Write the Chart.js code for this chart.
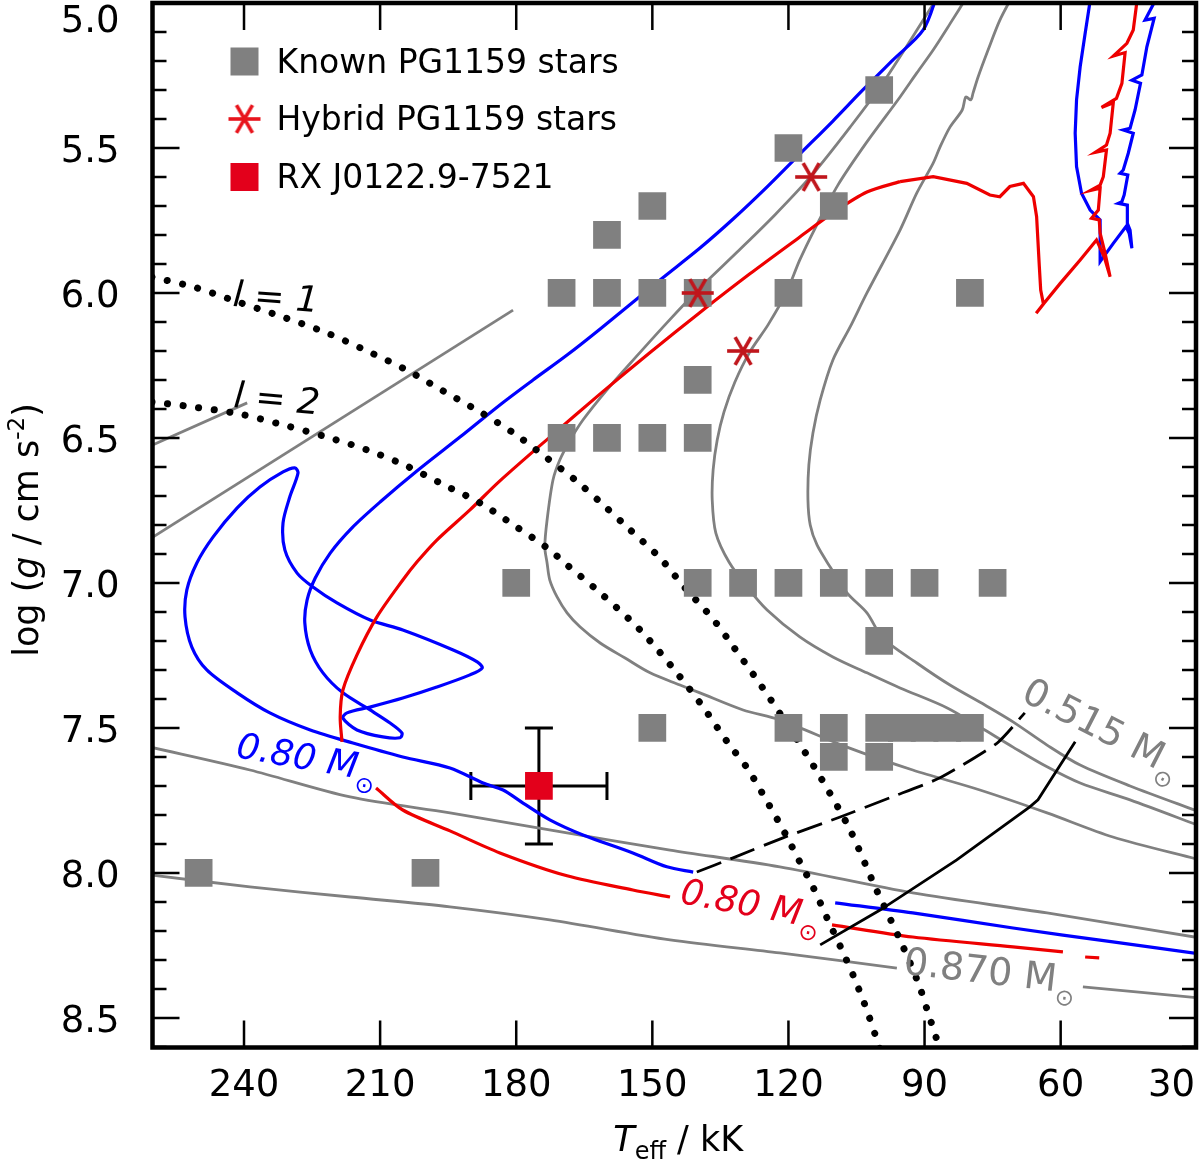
<!DOCTYPE html>
<html><head><meta charset="utf-8">
<script src="https://cdn.jsdelivr.net/npm/chart.js@4.4.1/dist/chart.umd.min.js"></script>
<style>html,body{margin:0;padding:0;background:#fff;}#wrap{width:1200px;height:1160px;position:relative;}</style>
</head><body><div id="wrap"><canvas id="c"></canvas></div>
<script>
// ---------- tick labels ----------
const xTicks = [240, 210, 180, 150, 120, 90, 60, 30];
const yMajorTicks = [5.0, 5.5, 6.0, 6.5, 7.0, 7.5, 8.0, 8.5];
const yMinorTicks = [5.1,5.2,5.3,5.4,5.6,5.7,5.8,5.9,6.1,6.2,6.3,6.4,6.6,6.7,6.8,6.9,7.1,7.2,7.3,7.4,7.6,7.7,7.8,7.9,8.1,8.2,8.3,8.4,8.6];

// ---------- stars [Teff kK, log g] ----------
const knownStars = [[100,5.3],[120,5.5],[110,5.7],[150,5.7],[160,5.8],[170,6.0],[160,6.0],[150,6.0],[140,6.0],[120,6.0],[80,6.0],[140,6.3],[170,6.5],[160,6.5],[150,6.5],[140,6.5],[180,7.0],[140,7.0],[130,7.0],[120,7.0],[110,7.0],[100,7.0],[90,7.0],[75,7.0],[100,7.2],[150,7.5],[120,7.5],[110,7.5],[100,7.5],[95,7.5],[90,7.5],[85,7.5],[80,7.5],[110,7.6],[100,7.6],[250,8.0],[200,8.0]];
const hybridStars = [[140,6.0],[130,6.2],[115,5.6]];
const rxStar = [[175,7.7]];
const rxErrTeff = 15;
const rxErrLogg = 0.2;

// ---------- evolutionary tracks [Teff kK, log g] ----------
const blueTrack = [[87.0,4.962],[90.3,5.093],[97.0,5.197],[103.6,5.300],[110.2,5.407],[117.5,5.521],[124.7,5.634],[132.2,5.745],[139.5,5.845],[148.3,5.955],[161.5,6.124],[168.8,6.214],[176.3,6.300],[183.6,6.386],[192.4,6.497],[201.9,6.614],[210.0,6.721],[216.2,6.810],[221.0,6.897],[224.3,6.983],[226.1,7.059],[226.6,7.138],[225.4,7.231],[222.6,7.310],[218.2,7.379],[212.2,7.438],[207.8,7.483],[205.2,7.517],[205.6,7.534],[209.4,7.531],[215.1,7.507],[218.2,7.466],[217.3,7.448],[212.2,7.428],[205.0,7.397],[197.5,7.359],[190.2,7.317],[187.5,7.293],[188.6,7.272],[193.9,7.231],[205.0,7.162],[212.2,7.128],[219.5,7.069],[224.8,7.014],[228.3,6.966],[231.0,6.886],[231.4,6.793],[229.9,6.703],[228.1,6.621],[228.8,6.603],[231.4,6.617],[236.5,6.669],[241.5,6.741],[246.8,6.841],[250.4,6.931],[252.6,7.024],[253.0,7.117],[251.5,7.221],[248.2,7.300],[241.5,7.379],[234.3,7.448],[225.4,7.507],[216.0,7.552],[205.0,7.600],[194.6,7.638],[187.3,7.690],[182.9,7.714],[178.5,7.759],[172.6,7.817],[165.3,7.869],[154.3,7.931],[146.8,7.979],[141.0,7.997]];
const blueTrackCool = [[109.7,8.103],[92.6,8.138],[70.5,8.190],[48.5,8.238],[29.3,8.279]];
const blueTrackAGB = [[38.5,4.972],[41.4,5.059],[39.4,5.053],[41.0,5.151],[42.1,5.248],[44.3,5.266],[42.4,5.277],[43.6,5.369],[44.7,5.432],[46.2,5.438],[44.0,5.449],[45.1,5.518],[46.2,5.576],[46.9,5.587],[45.2,5.593],[46.0,5.662],[46.5,5.685],[47.3,5.691],[45.3,5.697],[45.3,5.760],[44.7,5.783],[44.3,5.846],[44.9,5.794],[45.6,5.771],[48.4,5.829],[51.3,5.892],[51.3,5.748],[53.5,5.714],[55.4,5.656],[56.5,5.564],[56.8,5.449],[56.5,5.334],[55.7,5.220],[54.6,5.104],[53.3,4.972]];
const redTrackAGB = [[43.0,4.972],[44.0,5.093],[45.4,5.139],[48.4,5.183],[45.8,5.171],[46.5,5.277],[47.7,5.329],[51.0,5.360],[48.4,5.344],[49.1,5.449],[49.9,5.490],[52.4,5.515],[49.9,5.507],[50.6,5.599],[51.3,5.628],[53.5,5.647],[51.3,5.639],[51.7,5.714],[53.2,5.742],[51.5,5.748],[51.3,5.794],[50.2,5.863],[49.1,5.944],[50.4,5.875],[52.1,5.817],[55.7,5.886],[60.1,5.967],[63.8,6.038],[65.4,6.070],[63.8,6.038],[64.4,5.990],[64.7,5.909],[65.3,5.737],[66.0,5.668],[68.2,5.622],[71.2,5.633],[73.4,5.668],[75.6,5.662],[80.7,5.622],[88.1,5.599],[95.4,5.616]];
const redTrack = [[95.4,5.616],[102.7,5.652],[110.2,5.724],[117.5,5.807],[128.5,5.934],[139.5,6.067],[150.5,6.205],[161.5,6.348],[172.6,6.497],[183.6,6.648],[190.2,6.748],[197.5,6.852],[201.9,6.928],[205.0,6.990],[210.7,7.117],[215.1,7.248],[218.2,7.369],[218.8,7.462],[218.4,7.548]];
const redTrackCool1 = [[210.9,7.707],[205.0,7.783],[194.6,7.855],[183.6,7.931],[168.8,8.010],[154.3,8.059],[146.1,8.083]];
const redTrackCool2 = [[110.4,8.179],[92.6,8.221],[70.5,8.255],[59.5,8.272]];
const redTrackCool3 = [[54.6,8.290],[51.5,8.293]];
const grayTrackC = [[86.8,4.972],[99.2,5.276],[106.4,5.428],[114.8,5.593],[123.0,5.731],[131.3,5.859],[139.5,5.983],[146.8,6.103],[153.8,6.224],[160.0,6.334],[165.3,6.438],[168.1,6.507],[170.4,6.576],[171.9,6.645],[173.2,6.783],[173.7,6.876],[173.2,6.931],[172.6,6.990],[171.0,7.048],[168.8,7.103],[165.9,7.152],[161.5,7.207],[156.0,7.259],[150.5,7.310],[143.9,7.352],[139.5,7.379],[130.0,7.438],[121.9,7.472],[107.1,7.566],[92.6,7.645],[77.8,7.714],[63.0,7.793],[48.5,7.876],[29.3,7.955]];
const grayTrackA = [[80.4,4.972],[84.4,5.072],[88.1,5.162],[91.7,5.241],[95.4,5.324],[102.7,5.479],[109.1,5.628],[114.1,5.776],[117.5,5.886],[120.5,6.000],[124.5,6.110],[128.5,6.203],[131.8,6.307],[134.2,6.410],[135.7,6.507],[136.6,6.610],[136.8,6.714],[136.0,6.828],[133.1,6.928],[129.1,7.014],[124.7,7.093],[117.5,7.186],[110.2,7.255],[102.7,7.310],[95.4,7.362],[85.0,7.431],[77.8,7.497],[70.5,7.566],[63.0,7.634],[55.7,7.690],[44.7,7.748],[29.3,7.838]];
const grayTrack0515 = [[70.5,4.972],[73.4,5.059],[76.0,5.162],[78.2,5.255],[79.3,5.310],[79.8,5.334],[80.9,5.324],[81.7,5.369],[84.4,5.428],[86.6,5.497],[88.1,5.552],[91.7,5.655],[95.4,5.783],[102.7,6.000],[106.4,6.117],[110.2,6.231],[113.0,6.369],[114.6,6.483],[115.5,6.593],[115.7,6.714],[115.2,6.800],[113.7,6.869],[110.8,6.945],[107.1,7.034],[102.7,7.103],[99.2,7.190],[91.7,7.276],[84.4,7.352],[76.7,7.421],[70.5,7.479],[63.0,7.559],[55.7,7.628],[44.7,7.700],[29.3,7.790]];
const grayTrackD = [[260.7,7.566],[238.7,7.645],[216.6,7.738],[194.6,7.793],[168.8,7.862],[146.1,7.921],[121.9,7.979],[92.6,8.069],[63.0,8.138],[29.3,8.224]];
const grayTrack0870a = [[260.7,8.007],[238.7,8.048],[216.6,8.083],[194.6,8.117],[172.6,8.162],[146.1,8.231],[121.9,8.276],[96.1,8.328]];
const grayTrack0870b = [[55.1,8.393],[29.3,8.431]];
const grayTrackF = [[260.7,6.528],[239.3,6.379]];
const grayTrackG = [[260.7,6.848],[180.7,6.059]];
const instabL1 = [[260.3,5.945],[251.2,5.979],[241.3,6.031],[231.4,6.083],[221.7,6.138],[212.9,6.200],[204.1,6.266],[196.1,6.338],[188.0,6.410],[180.3,6.486],[173.0,6.572],[167.0,6.645],[161.5,6.721],[154.9,6.817],[148.3,6.914],[142.8,7.017],[136.8,7.121],[132.9,7.203],[125.8,7.359],[119.2,7.514],[112.6,7.679],[106.4,7.852],[100.9,8.048],[95.4,8.231],[91.4,8.379],[89.2,8.483],[86.2,8.628]];
const instabL2 = [[260.3,6.376],[251.2,6.393],[241.1,6.417],[231.4,6.455],[221.7,6.497],[212.9,6.541],[204.1,6.597],[195.9,6.662],[188.0,6.724],[180.3,6.803],[173.2,6.879],[168.8,6.938],[161.5,7.034],[152.7,7.162],[144.6,7.310],[138.8,7.428],[133.3,7.552],[129.1,7.638],[125.8,7.724],[120.8,7.862],[117.5,7.962],[114.6,8.048],[111.3,8.162],[108.2,8.266],[105.3,8.369],[102.5,8.483],[99.4,8.628]];
const dashedBoundary = [[140.2,7.997],[132.2,7.948],[121.2,7.879],[108.6,7.807],[97.2,7.738],[86.6,7.672],[74.0,7.552],[67.9,7.448]];
const solidBoundary = [[113.0,8.248],[99.8,8.128],[82.9,7.955],[66.8,7.772],[65.0,7.748],[56.8,7.548]];

// ---------- text annotations (anchors in data units) ----------
const trackLabels = [
  {text:'0.80 M', teff:242.0, logg:7.600, rot:10, color:'#0000ff', italic:true, size:36},
  {text:'0.80 M', teff:144.1, logg:8.103, rot:10.5, color:'#e3001b', italic:true, size:36},
  {text:'0.870 M', teff:94.8, logg:8.348, rot:6.5, color:'#808080', italic:false, size:38},
  {text:'0.515 M', teff:69.0, logg:7.403, rot:27, color:'#808080', italic:false, size:38}
];
const modeLabels = [
  {text:'l = 1', teff:242.6, logg:6.045, rot:4},
  {text:'l = 2', teff:242.4, logg:6.393, rot:5}
];
const legendItems = ['Known PG1159 stars', 'Hybrid PG1159 stars', 'RX J0122.9-7521'];

const FONT = '"DejaVu Sans", "Liberation Sans", sans-serif';
const GRAY = '#808080', BLUE = '#0000ff', RED = '#ee0000';

function makeAsterisk(color, size, lw) {
  const c = document.createElement('canvas');
  c.width = size; c.height = size;
  const g = c.getContext('2d');
  g.strokeStyle = color; g.lineWidth = lw; g.lineCap = 'butt';
  const r = size / 2 - 1;
  for (const a of [0, 60, 120]) {
    const rad = a * Math.PI / 180;
    g.beginPath();
    g.moveTo(size/2 - r*Math.cos(rad), size/2 - r*Math.sin(rad));
    g.lineTo(size/2 + r*Math.cos(rad), size/2 + r*Math.sin(rad));
    g.stroke();
  }
  return c;
}
const starImg = makeAsterisk('#c0161c', 34, 3.6);
const starImgLegend = makeAsterisk('#e8141c', 34, 3.6);

const toXY = arr => arr.map(p => ({x: p[0], y: p[1]}));
function curve(label, data, color, width, extra) {
  return Object.assign({label, data: toXY(data), showLine: true, borderColor: color, backgroundColor: color,
    borderWidth: width, pointRadius: 0, pointHoverRadius: 0, tension: 0.3, fill: false}, extra || {});
}

function drawRich(ctx, x, y, angle, parts, color, center) {
  ctx.save();
  ctx.translate(x, y);
  ctx.rotate(angle * Math.PI / 180);
  ctx.fillStyle = color;
  ctx.textBaseline = 'alphabetic';
  ctx.textAlign = 'left';
  let w = 0;
  for (const p of parts) { ctx.font = p.f; w += ctx.measureText(p.t).width; }
  let cx = center ? -w / 2 : 0;
  for (const p of parts) { ctx.font = p.f; ctx.fillText(p.t, cx, p.dy || 0); cx += ctx.measureText(p.t).width; }
  ctx.restore();
}

const decor = {
  id: 'decor',
  beforeDatasetsDraw(chart) {
    const ctx = chart.ctx, xs = chart.scales.x, ys = chart.scales.y;
    ctx.save();
    ctx.strokeStyle = '#000'; ctx.lineWidth = 3;
    for (const s of rxStar) {
      const x0 = xs.getPixelForValue(s[0] + rxErrTeff), x1 = xs.getPixelForValue(s[0] - rxErrTeff);
      const y0 = ys.getPixelForValue(s[1] - rxErrLogg), y1 = ys.getPixelForValue(s[1] + rxErrLogg);
      const px = xs.getPixelForValue(s[0]), py = ys.getPixelForValue(s[1]);
      ctx.beginPath();
      ctx.moveTo(x0, py); ctx.lineTo(x1, py);
      ctx.moveTo(px, y0); ctx.lineTo(px, y1);
      ctx.moveTo(x0, py - 14); ctx.lineTo(x0, py + 14);
      ctx.moveTo(x1, py - 14); ctx.lineTo(x1, py + 14);
      ctx.moveTo(px - 14, y0); ctx.lineTo(px + 14, y0);
      ctx.moveTo(px - 14, y1); ctx.lineTo(px + 14, y1);
      ctx.stroke();
    }
    ctx.restore();
  },
  afterDatasetsDraw(chart) {
    const ctx = chart.ctx, xs = chart.scales.x, ys = chart.scales.y, a = chart.chartArea;
    for (const L of trackLabels) {
      const x = xs.getPixelForValue(L.teff), y = ys.getPixelForValue(L.logg);
      drawRich(ctx, x, y, L.rot, [
        {t: L.text, f: (L.italic ? 'italic ' : '') + L.size + 'px ' + FONT},
        {t: '\u2299', f: '23px ' + FONT, dy: 13}
      ], L.color, false);
    }
    for (const L of modeLabels) {
      const x = xs.getPixelForValue(L.teff), y = ys.getPixelForValue(L.logg);
      drawRich(ctx, x, y, L.rot, [{t: L.text, f: 'italic 36px ' + FONT}], '#000', false);
    }
    const lx = a.left + 92, rows = [a.top + 58.5, a.top + 116, a.top + 174];
    ctx.save();
    ctx.fillStyle = GRAY; ctx.fillRect(lx - 14, rows[0] - 14, 28, 28);
    ctx.drawImage(starImgLegend, lx - 17, rows[1] - 17);
    ctx.fillStyle = '#e3001b'; ctx.fillRect(lx - 14, rows[2] - 14, 28, 28);
    ctx.fillStyle = '#000'; ctx.font = '33px ' + FONT; ctx.textAlign = 'left'; ctx.textBaseline = 'alphabetic';
    legendItems.forEach((t, i) => ctx.fillText(t, a.left + 124, rows[i] + 11));
    ctx.restore();
  },
  afterDraw(chart) {
    const ctx = chart.ctx, xs = chart.scales.x, ys = chart.scales.y, a = chart.chartArea;
    ctx.save();
    ctx.strokeStyle = '#000'; ctx.lineWidth = 2.5;
    ctx.beginPath();
    for (const t of xTicks) {
      const px = xs.getPixelForValue(t);
      ctx.moveTo(px, a.bottom); ctx.lineTo(px, a.bottom - 27);
      ctx.moveTo(px, a.top); ctx.lineTo(px, a.top + 27);
    }
    for (const t of yMajorTicks) {
      const py = ys.getPixelForValue(t);
      ctx.moveTo(a.left, py); ctx.lineTo(a.left + 27, py);
      ctx.moveTo(a.right, py); ctx.lineTo(a.right - 27, py);
    }
    for (const t of yMinorTicks) {
      const py = ys.getPixelForValue(t);
      ctx.moveTo(a.left, py); ctx.lineTo(a.left + 14, py);
      ctx.moveTo(a.right, py); ctx.lineTo(a.right - 14, py);
    }
    ctx.stroke();
    ctx.lineWidth = 4.5;
    ctx.strokeRect(a.left, a.top, a.right - a.left, a.bottom - a.top);
    ctx.fillStyle = '#000'; ctx.font = '37px ' + FONT; ctx.textBaseline = 'alphabetic';
    ctx.textAlign = 'center';
    for (const t of xTicks) {
      let px = xs.getPixelForValue(t);
      const s = String(t), w = ctx.measureText(s).width;
      if (px + w / 2 > chart.width - 5) px = chart.width - 5 - w / 2;
      ctx.fillText(s, px, a.bottom + 48);
    }
    ctx.textAlign = 'right';
    for (const t of yMajorTicks) {
      const py = ys.getPixelForValue(t);
      ctx.fillText(t.toFixed(1), a.left - 33, Math.max(py + 14, 32));
    }
    ctx.restore();
    drawRich(ctx, (a.left + a.right) / 2 + 4, a.bottom + 103, 0, [
      {t: 'T', f: 'italic 35px ' + FONT},
      {t: 'eff', f: '24px ' + FONT, dy: 8},
      {t: ' / kK', f: '35px ' + FONT}
    ], '#000', true);
    drawRich(ctx, 38, 530, -90, [
      {t: 'log (', f: '35px ' + FONT},
      {t: 'g', f: 'italic 35px ' + FONT},
      {t: ' / cm s', f: '35px ' + FONT},
      {t: '-2', f: '23px ' + FONT, dy: -14},
      {t: ')', f: '35px ' + FONT}
    ], '#000', true);
  }
};

const datasets = [
  {label: 'Hybrid PG1159 stars', data: toXY(hybridStars), pointStyle: starImg, pointRadius: 17, pointHoverRadius: 17, showLine: false},
  {label: 'RX J0122.9-7521', data: toXY(rxStar), pointStyle: 'rect', pointRadius: 19.6, pointHoverRadius: 19.6, pointBorderWidth: 0, borderWidth: 0, backgroundColor: '#e3001b', borderColor: '#e3001b', showLine: false},
  {label: 'Known PG1159 stars', data: toXY(knownStars), pointStyle: 'rect', pointRadius: 19.6, pointHoverRadius: 19.6, pointBorderWidth: 0, borderWidth: 0, backgroundColor: GRAY, borderColor: GRAY, showLine: false},
  curve('l=1', instabL1, '#000', 7, {borderDash: [0.1, 15.6], borderCapStyle: 'round'}),
  curve('l=2', instabL2, '#000', 7, {borderDash: [0.1, 15.6], borderCapStyle: 'round'}),
  curve('dashed', dashedBoundary, '#000', 2.8, {borderDash: [26, 10], tension: 0.2}),
  curve('solid', solidBoundary, '#000', 2.8, {tension: 0}),
  curve('red AGB', redTrackAGB, RED, 3.2, {tension: 0}),
  curve('red', redTrack, RED, 3.2),
  curve('red cool 1', redTrackCool1, RED, 3.2),
  curve('red cool 2', redTrackCool2, RED, 3.2),
  curve('red cool 3', redTrackCool3, RED, 3.2, {tension: 0}),
  curve('blue', blueTrack, BLUE, 3.2),
  curve('blue cool', blueTrackCool, BLUE, 3.2),
  curve('blue AGB', blueTrackAGB, BLUE, 3.2, {tension: 0}),
  curve('gray C', grayTrackC, GRAY, 2.8),
  curve('gray A', grayTrackA, GRAY, 2.8),
  curve('gray 0.515', grayTrack0515, GRAY, 2.8),
  curve('gray D', grayTrackD, GRAY, 2.8),
  curve('gray 0.870 a', grayTrack0870a, GRAY, 2.8),
  curve('gray 0.870 b', grayTrack0870b, GRAY, 2.8),
  curve('gray F', grayTrackF, GRAY, 2.8, {tension: 0}),
  curve('gray G', grayTrackG, GRAY, 2.8, {tension: 0})
];

new Chart(document.getElementById('c'), {
  type: 'scatter',
  data: {datasets},
  options: {
    responsive: true, maintainAspectRatio: false, animation: false, events: [],
    layout: {autoPadding: false, padding: {left: 152.5, right: 4, top: 3, bottom: 112.5}},
    scales: {
      x: {type: 'linear', min: 30.17, max: 260.17, reverse: true, display: false},
      y: {type: 'linear', min: 5.0, max: 8.602, reverse: true, display: false}
    },
    plugins: {legend: {display: false}, tooltip: {enabled: false}}
  },
  plugins: [decor]
});
</script></body></html>
